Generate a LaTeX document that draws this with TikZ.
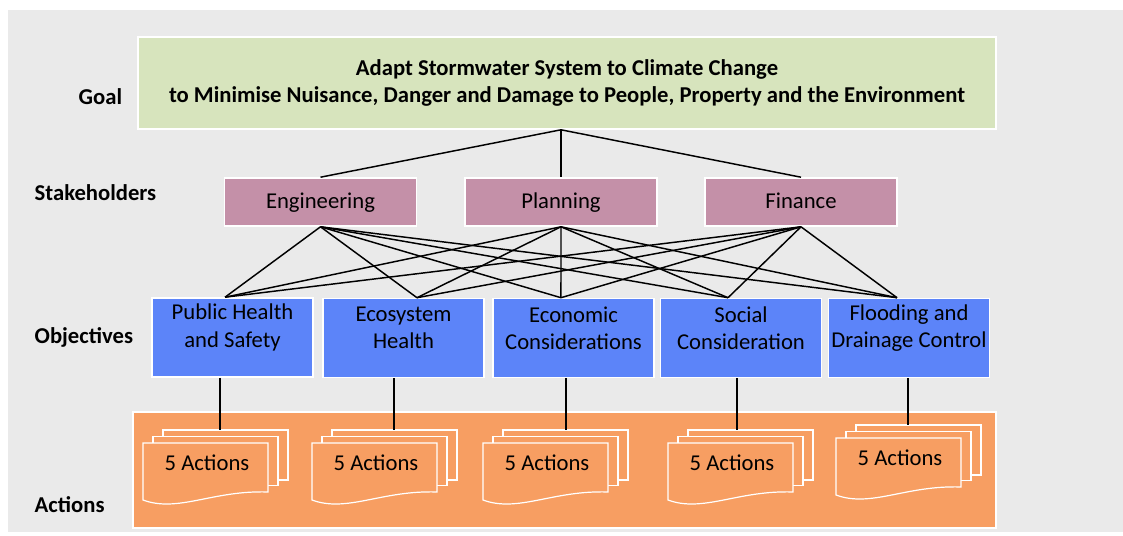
\documentclass[tikz,border=0pt]{standalone}
\usepackage{fontspec}
\setmainfont{Carlito}
\definecolor{bggray}{HTML}{EAEAEA}
\definecolor{goalgreen}{HTML}{D7E4BD}
\definecolor{stakepink}{HTML}{C490A8}
\definecolor{objblue}{HTML}{5C84F9}
\definecolor{actorange}{HTML}{F79E62}
\begin{document}
\begin{tikzpicture}[x=0.75pt, y=-0.75pt,
	every node/.style={font=\fontsize{17}{20.5}\selectfont},
	box/.style={draw=white, line width=1.2pt, inner sep=0pt},
	goalbox/.style={box, fill=goalgreen, minimum width=643.5pt, minimum height=69pt,
		align=center, font=\fontsize{17}{20.5}\selectfont\bfseries},
	stakebox/.style={box, fill=stakepink, minimum width=144pt, minimum height=36pt,
		text height=2.3ex, text depth=0.3ex},
	objbox/.style={box, fill=objblue, minimum width=120.75pt, minimum height=59.25pt},
	actbox/.style={box, fill=actorange, minimum width=647.25pt, minimum height=87pt},
	rowlabel/.style={anchor=west, font=\fontsize{17}{20.5}\selectfont\bfseries},
	sheet/.style={draw=white, fill=actorange, line width=0.9pt},
	link/.style={line width=1.1pt},
	actline/.style={line width=2.2pt}]

	% canvas
	\fill[white] (0,0) rectangle (1123,535);
	\useasboundingbox (0,0) rectangle (1123,535);
	\fill[bggray] (8,10) rectangle (1123,532);

	% row labels
	\node[rowlabel] (lgoal) at (74,97) {Goal};
	\node[rowlabel] (lstake) at (30,193) {Stakeholders};
	\node[rowlabel] (lobj) at (30,337) {Objectives};
	\node[rowlabel] (lact) at (30,505) {Actions};

	% goal
	\node[goalbox] (goal) at (567,83) {Adapt Stormwater System to Climate Change\\
		to Minimise Nuisance, Danger and Damage to People, Property and the Environment};

	% stakeholders
	\node[stakebox] (eng) at (320.5,202) {Engineering};
	\node[stakebox] (plan) at (561,202) {Planning};
	\node[stakebox] (fin) at (801,202) {Finance};

	% objectives
	\node[objbox, label={[align=center, yshift=7.5pt]center:Public Health\\and Safety}] (phs) at (232.5,337.5) {};
	\node[objbox, label={[align=center, yshift=7.5pt]center:Ecosystem\\Health}] (eco) at (403.5,338) {};
	\node[objbox, label={[align=center, yshift=7.5pt]center:Economic\\Considerations}] (econ) at (573.5,338) {};
	\node[objbox, label={[align=center, yshift=7.5pt]center:Social\\Consideration}] (soc) at (741,338) {};
	\node[objbox, label={[align=center, yshift=7.5pt]center:Flooding and\\Drainage Control}] (flood) at (909,338) {};
	\coordinate (o1) at ([xshift=-5.6pt]phs.north);
	\coordinate (o2) at ([xshift=10.1pt]eco.north);
	\coordinate (o3) at ([xshift=-9.4pt]econ.north);
	\coordinate (o4) at ([xshift=-9.75pt]soc.north);
	\coordinate (o5) at ([xshift=-9pt]flood.north);

	% actions
	\node[actbox] (acts) at (564.5,470) {};
	\foreach \n/\x/\y/\lx in {1/143/443/220, 2/312/443/394, 3/483/443/566, 4/668/443/737, 5/836/438/908} {
		\filldraw[sheet] (\x+20,\y-13) rectangle (\x+145,\y+37);
		\filldraw[sheet] (\x+10,\y-6.5) rectangle (\x+135,\y+42.5);
		\filldraw[sheet] (\x,\y) -- (\x+125,\y) -- (\x+125,\y+49)
			.. controls (\x+70,\y+47) and (\x+35,\y+70) .. (\x,\y+57) -- cycle;
		\node (a\n) at (\x+64,\y+20) {5 Actions};
		\coordinate (top\n) at (\lx,\y-13);
	}

	% connectors
	\foreach \s in {eng, plan, fin}
		\draw[link] (goal.south -| plan.north) -- (\s.north);
	\foreach \s in {eng, plan, fin}
		\foreach \o in {o1, o2, o3, o4, o5}
			\draw[link] (\s.south) -- (\o);
	\foreach \o/\n in {phs/1, eco/2, econ/3, soc/4, flood/5}
		\draw[actline] (\o.south -| top\n) -- (top\n);
\end{tikzpicture}
\end{document}
